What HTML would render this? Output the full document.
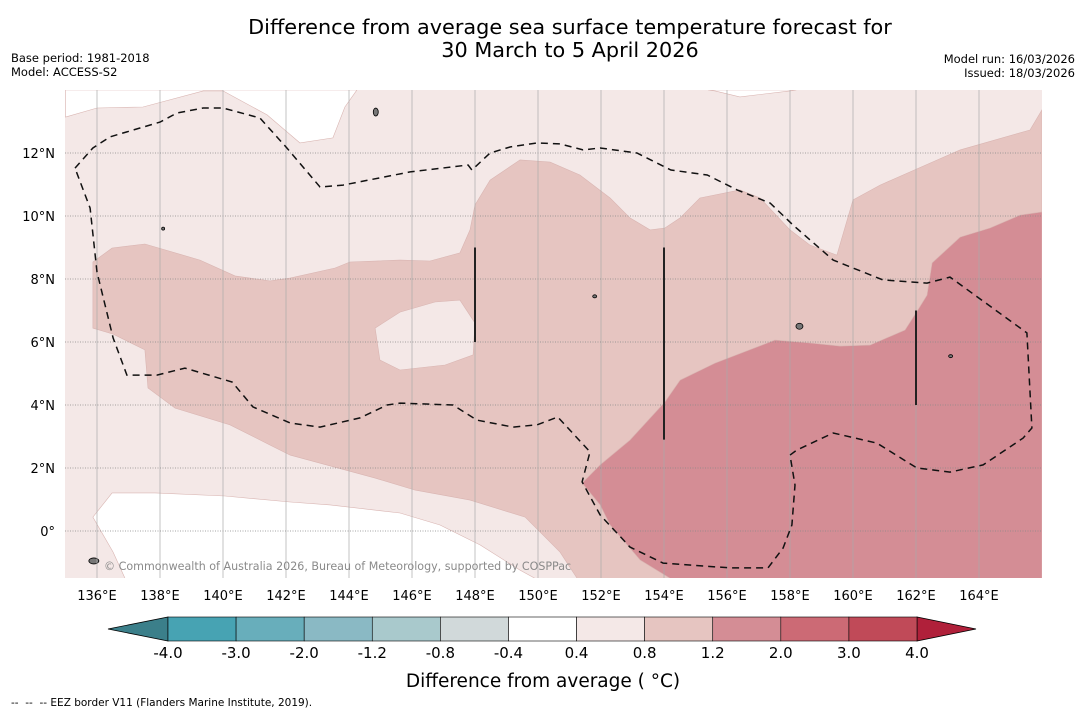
<!DOCTYPE html>
<html><head><meta charset="utf-8"><style>
body{margin:0;background:#fff;}
svg text{font-family:"DejaVu Sans","Liberation Sans",sans-serif;}
</style></head><body>
<svg id="chart" width="1085" height="713" viewBox="0 0 1085 713" xmlns="http://www.w3.org/2000/svg">
<text x="570" y="34" font-size="20.8" text-anchor="middle">Difference from average sea surface temperature forecast for</text>
<text x="570" y="57" font-size="20.8" text-anchor="middle">30 March to 5 April 2026</text>
<text x="11" y="62" font-size="11.5">Base period: 1981-2018</text>
<text x="11" y="76" font-size="11.5">Model: ACCESS-S2</text>
<text x="1075" y="63" font-size="11.5" text-anchor="end">Model run: 16/03/2026</text>
<text x="1075" y="77" font-size="11.5" text-anchor="end">Issued: 18/03/2026</text>
<defs><clipPath id="mapclip"><rect x="65" y="90" width="977" height="488"/></clipPath></defs>
<g id="map" clip-path="url(#mapclip)"></g>
<g id="axes"></g>
<g id="cbar"></g>
<text x="543" y="687" font-size="18.5" text-anchor="middle" xml:space="preserve">Difference from average ( °C)</text>
<text x="11" y="706" font-size="10.5" xml:space="preserve">--  --  -- EEZ border V11 (Flanders Marine Institute, 2019).</text>
</svg>
<script>
const lonTicks=[136,138,140,142,144,146,148,150,152,154,156,158,160,162,164];
const latTicks=[0,2,4,6,8,10,12];
const cbarLevels=["-4.0","-3.0","-2.0","-1.2","-0.8","-0.4","0.4","0.8","1.2","2.0","3.0","4.0"];
const cbarColors=["#47a3b3","#68aebb","#8ab9c4","#a9c9cc","#d1d9da","#ffffff","#f4e8e7","#e6c5c1","#d48d95","#cc6a75","#c04a58"];
const whiteTopLeft=[[135,14],[135,13.14],[136,13.43],[137.46,13.46],[139.37,13.97],[140,13.97],[141.4,13.21],[142.44,12.32],[143.49,12.48],[143.87,13.46],[144.25,14]];
const whiteTopRight=[[155.4,14],[155.62,13.97],[156.41,13.78],[158,13.97],[158.2,14]];
const whiteBottom=[[136.48,1.21],[137.84,1.21],[140.06,1.11],[142.13,0.92],[143.4,0.83],[145.62,0.57],[146.89,0.19],[148.16,-0.44],[149.43,-1.24],[149.9,-1.5],[136.89,-1.5],[136.51,-0.67],[135.87,0.44]];
const mediumZone=[[135.87,8.54],[136.48,8.98],[137.52,9.11],[139.27,8.6],[140.38,8.1],[141.49,7.94],[142.13,8.03],[143.56,8.35],[144.03,8.54],[145.62,8.6],[146.57,8.57],[147.52,8.83],[147.84,9.56],[148,10.35],[148.48,11.14],[149.43,11.78],[150.38,11.71],[151.33,11.3],[152.29,10.57],[152.92,9.94],[153.56,9.56],[154.03,9.62],[154.51,9.94],[155.14,10.57],[156.41,10.83],[157.05,10.57],[158,9.56],[158.63,9.08],[159.49,8.76],[160,10.51],[160.86,10.98],[163.4,12.1],[165.62,12.73],[166,13.37],[166,-1.5],[151.24,-1.5],[150.7,-0.67],[149.59,0.44],[147.84,0.98],[146.1,1.3],[144.83,1.68],[142.13,2.41],[141.49,2.73],[140.22,3.37],[138.48,3.9],[137.62,4.54],[137.52,5.75],[136.51,6.25],[135.87,6.44]];
const lightIsland=[[144.83,6.44],[145.62,6.95],[146.73,7.27],[147.52,7.33],[148,6.6],[147.94,5.59],[147.05,5.27],[145.62,5.11],[144.98,5.43]];
const darkZone=[[151.4,1.52],[151.97,2.1],[152.92,2.89],[154.03,4.1],[154.51,4.79],[155.62,5.33],[157.52,6.06],[158.63,5.97],[159.59,5.87],[160.54,5.9],[161.65,6.38],[162.06,7.02],[162.35,7.49],[162.51,8.51],[163.4,9.33],[164.35,9.62],[165.3,10.03],[166,10.13],[166,-1.5],[154.19,-1.5],[153.24,-0.92],[152.29,0.19],[151.97,0.83]];
const eezBorder=[[135.3,11.52],[135.87,12.16],[136.41,12.51],[138,12.98],[138.54,13.27],[139.37,13.43],[140,13.43],[141.17,13.11],[142.03,12.16],[143.08,10.92],[143.81,10.98],[145.94,11.4],[147.78,11.62],[147.9,11.46],[148.48,12],[149.11,12.19],[149.97,12.32],[150.7,12.29],[151.43,12.1],[151.97,12.16],[153.14,12],[154.22,11.46],[155.37,11.3],[156.32,10.83],[157.37,10.41],[158.1,9.71],[159.37,8.6],[160.95,7.97],[162.35,7.87],[163.08,8.06],[165.52,6.29],[165.68,3.27],[165.4,2.95],[164.13,2.1],[163.08,1.87],[162.03,2],[160.76,2.79],[159.37,3.11],[158.22,2.57],[158,2.41],[158.16,1.46],[158.06,0.19],[157.78,-0.54],[157.3,-1.17],[156.1,-1.17],[153.97,-1.02],[152.92,-0.51],[151.97,0.51],[151.4,1.56],[151.65,2.51],[150.63,3.62],[149.97,3.37],[149.21,3.3],[148.06,3.52],[147.3,4],[145.62,4.06],[145.21,4],[144.35,3.59],[143.08,3.3],[142.13,3.43],[140.95,3.94],[140.29,4.73],[138.79,5.17],[137.9,4.95],[136.95,4.95],[136.51,6.13],[136,8.22],[135.78,10.25]];
const eezSegments=[[148,9,6],[154,9,2.9],[162,7,4]];
const islands=[[135.9,-0.95,5,3],[144.85,13.3,2.5,4],[158.3,6.5,3.5,3],[163.1,5.55,2,1.5],[151.8,7.45,2,1.5],[138.1,9.6,1.5,1.5]];

const NS="http://www.w3.org/2000/svg";
const X=lon=>65.5+(lon-135)*31.5;
const Y=lat=>531-lat*31.5;
function mk(tag,attrs,parent){const e=document.createElementNS(NS,tag);for(const k in attrs)e.setAttribute(k,attrs[k]);parent.appendChild(e);return e;}
const pts=a=>a.map(p=>X(p[0]).toFixed(1)+","+Y(p[1]).toFixed(1)).join(" ");
const map=document.getElementById('map');
let bg=mk('rect',{x:65,y:90,width:977,height:488,fill:"#f4e8e7"},map);


const polys=[[whiteTopLeft,"#ffffff","white-zone-north-west"],[whiteTopRight,"#ffffff","white-zone-north-east"],[whiteBottom,"#ffffff","white-zone-south"],[mediumZone,"#e6c5c1","anomaly-0.8-1.2-zone"],[lightIsland,"#f4e8e7","anomaly-0.4-0.8-patch"],[darkZone,"#d48d95","anomaly-1.2-2.0-zone"]];
polys.forEach(p=>{
 const e=mk('polygon',{points:pts(p[0]),fill:p[1],stroke:"#d9b5b2","stroke-width":0.6},map);
 
 
});
islands.forEach(i=>{
 const e=mk('ellipse',{cx:X(i[0]),cy:Y(i[1]),rx:i[2],ry:i[3],fill:"#777",stroke:"#000","stroke-width":0.8},map);
 
 
});
lonTicks.forEach(l=>{
 const e=mk('line',{x1:X(l),x2:X(l),y1:90,y2:578,stroke:"#aaa","stroke-width":0.7},map);
 
 
});
latTicks.forEach(l=>{
 const e=mk('line',{x1:65,x2:1042,y1:Y(l),y2:Y(l),stroke:"#888","stroke-width":0.8,"stroke-dasharray":"1,1.5"},map);
 
 
});
let eez=mk('polygon',{points:pts(eezBorder),fill:"none",stroke:"#111","stroke-width":1.5,"stroke-dasharray":"7,5"},map);


eezSegments.forEach(s=>{
 const e=mk('line',{x1:X(s[0]),x2:X(s[0]),y1:Y(s[1]),y2:Y(s[2]),stroke:"#222","stroke-width":2},map);
 
 
});
let cp=mk('text',{x:104,y:570,"font-size":11.1,fill:"#8a8a8a"},map);
cp.textContent="© Commonwealth of Australia 2026, Bureau of Meteorology, supported by COSPPac";



const axes=document.getElementById('axes');
lonTicks.forEach(l=>{
 const t=mk('text',{x:X(l),y:600,"font-size":13,"text-anchor":"middle"},axes);
 t.textContent=l+"°E";
 
 
});
latTicks.forEach(l=>{
 const t=mk('text',{x:55,y:Y(l)+5,"font-size":13,"text-anchor":"end"},axes);
 t.textContent=l===0?"0°":l+"°N";
 
 
});

const cb=document.getElementById('cbar');
const cx0=168,cx1=917,cy0=617,cy1=641,n=cbarColors.length,w=(cx1-cx0)/n;
let lt=mk('polygon',{points:`${cx0},${cy0} ${cx0},${cy1} 108,${(cy0+cy1)/2}`,fill:"#3b7f8a",stroke:"#000","stroke-width":0.8},cb);


let rt=mk('polygon',{points:`${cx1},${cy0} ${cx1},${cy1} 976,${(cy0+cy1)/2}`,fill:"#b0203a",stroke:"#000","stroke-width":0.8},cb);


cbarColors.forEach((c,i)=>{
 const r=mk('rect',{x:cx0+i*w,y:cy0,width:w,height:cy1-cy0,fill:c,stroke:"#000","stroke-width":0.6},cb);
 
 
});
cbarLevels.forEach((s,i)=>{
 const t=mk('text',{x:cx0+i*w,y:658,"font-size":15,"text-anchor":"middle"},cb);
 t.textContent=s;
 
 
});
</script>
</body></html>
